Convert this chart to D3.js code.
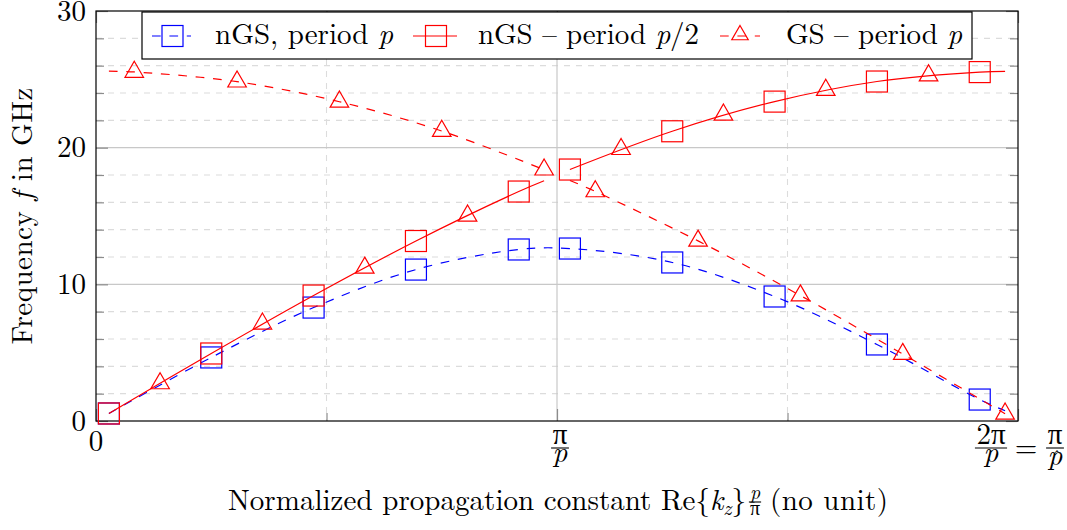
<!DOCTYPE html>
<html><head><meta charset="utf-8">
<script src="https://cdn.jsdelivr.net/npm/d3@7"></script>
<style>
body{margin:0;background:#fff;}
svg{display:block;}
</style>
</head><body>
<svg id="c" width="1067" height="530"></svg>
<script>
// ---------------- data ----------------
const xDomain = [0, 2];
const yDomain = [0, 30];
const yMajorTicks = [0, 10, 20, 30];
const yMinorTicks = [2, 4, 6, 8, 12, 14, 16, 18, 22, 24, 26, 28];
const xMajorTicks = [0, 1, 2];
const xMinorTicks = [0.5, 1.5];
const yTickLabels = ["0", "10", "20", "30"];

// nGS, period p (blue, dashed)
const nGSpX = [0.028, 0.25, 0.472, 0.694, 0.917, 1.028, 1.25, 1.472, 1.694, 1.917, 1.972];
const nGSpY = [0.55, 4.65, 8.30, 11.08, 12.55, 12.62, 11.60, 9.11, 5.60, 1.57, 0.75];
const nGSpMarked = [1, 1, 1, 1, 1, 1, 1, 1, 1, 1, 0];

// nGS - period p/2 (red, solid), two branches
const nGSh1X = [0.028, 0.25, 0.472, 0.694, 0.917, 0.972];
const nGSh1Y = [0.55, 4.94, 9.18, 13.17, 16.79, 17.58];
const nGSh1Marked = [1, 1, 1, 1, 1, 0];
const nGSh2X = [1.028, 1.25, 1.472, 1.694, 1.917, 1.972];
const nGSh2Y = [18.40, 21.20, 23.37, 24.84, 25.53, 25.58];
const nGSh2Marked = [1, 1, 1, 1, 1, 0];

// GS - period p (red, dashed, triangles), descending branches
const GSd1X = [0.028, 0.083, 0.306, 0.528, 0.75, 0.972];
const GSd1Y = [25.60, 25.54, 24.83, 23.36, 21.22, 18.39];
const GSd1Marked = [0, 1, 1, 1, 1, 1];
const GSd2X = [1.028, 1.083, 1.306, 1.528, 1.75, 1.972];
const GSd2Y = [17.60, 16.80, 13.18, 9.18, 4.90, 0.53];
const GSd2Marked = [0, 1, 1, 1, 1, 1];
// GS - period p, rising branch markers (lying on the red solid curve)
const GSrX = [0.139, 0.361, 0.583, 0.806, 1.139, 1.361, 1.583, 1.806];
const GSrY = [2.75, 7.12, 11.21, 15.02, 19.89, 22.41, 24.22, 25.28];

const legendLabels = ["nGS, period ", "nGS \u2013 period ", "GS \u2013 period "];

// ---------------- layout ----------------
const FONT = '"Latin Modern Roman", "Liberation Serif", serif';
const M = {left: 96, right: 1018, top: 11, bottom: 421};
const BLUE = "#0000ff", RED = "#ff0000";
const FS = 29;
const LW = 1.2;
const DASH = "8.7,8.7";

const svg = d3.select("#c");
const x = d3.scaleLinear(xDomain, [M.left, M.right]);
const y = d3.scaleLinear(yDomain, [M.bottom, M.top]);

const zip = (xs, ys) => xs.map((v, i) => [v, ys[i]]);
const T = (g) => g.append("text").attr("font-family", FONT).attr("fill", "#000");

// ---------------- grid ----------------
const grid = svg.append("g");
grid.selectAll(".hmin").data(yMinorTicks).join("line")
  .attr("x1", M.left).attr("x2", M.right)
  .attr("y1", d => y(d)).attr("y2", d => y(d))
  .attr("stroke", "#dcdcdc").attr("stroke-width", 1.1).attr("stroke-dasharray", "6,6");
grid.selectAll(".vmin").data(xMinorTicks).join("line")
  .attr("y1", M.top).attr("y2", M.bottom)
  .attr("x1", d => x(d)).attr("x2", d => x(d))
  .attr("stroke", "#dcdcdc").attr("stroke-width", 1.1).attr("stroke-dasharray", "6,6");
grid.selectAll(".hmaj").data(yMajorTicks.slice(1, -1)).join("line")
  .attr("x1", M.left).attr("x2", M.right)
  .attr("y1", d => y(d)).attr("y2", d => y(d))
  .attr("stroke", "#c8c8c8").attr("stroke-width", 1.2);
grid.selectAll(".vmaj").data(xMajorTicks.slice(1, -1)).join("line")
  .attr("y1", M.top).attr("y2", M.bottom)
  .attr("x1", d => x(d)).attr("x2", d => x(d))
  .attr("stroke", "#c8c8c8").attr("stroke-width", 1.2);

// ---------------- axes (ticks inside) ----------------
function styleAxis(g) {
  g.attr("font-family", FONT);
  g.select(".domain").remove();
  g.selectAll(".tick line").attr("stroke", "#8c8c8c").attr("stroke-width", 1.2);
  g.selectAll(".tick text").attr("font-size", FS).attr("font-family", FONT).attr("fill", "#000");
}
svg.append("g").attr("transform", `translate(${M.left},0)`)
  .call(d3.axisLeft(y).tickValues(yMajorTicks).tickSize(-12).tickPadding(10)
    .tickFormat((d, i) => yTickLabels[i]))
  .call(styleAxis);
svg.append("g").attr("transform", `translate(${M.left},0)`)
  .call(d3.axisLeft(y).tickValues(yMinorTicks).tickSize(-8).tickFormat(""))
  .call(styleAxis);
svg.append("g").attr("transform", `translate(${M.right},0)`)
  .call(d3.axisRight(y).tickValues(yMajorTicks).tickSize(-12).tickFormat(""))
  .call(styleAxis);
svg.append("g").attr("transform", `translate(${M.right},0)`)
  .call(d3.axisRight(y).tickValues(yMinorTicks).tickSize(-8).tickFormat(""))
  .call(styleAxis);
svg.append("g").attr("transform", `translate(0,${M.bottom})`)
  .call(d3.axisBottom(x).tickValues(xMajorTicks).tickSize(-12).tickFormat(""))
  .call(styleAxis);
svg.append("g").attr("transform", `translate(0,${M.bottom})`)
  .call(d3.axisBottom(x).tickValues(xMinorTicks).tickSize(-8).tickFormat(""))
  .call(styleAxis);
svg.append("g").attr("transform", `translate(0,${M.top})`)
  .call(d3.axisTop(x).tickValues(xMajorTicks).tickSize(-12).tickFormat(""))
  .call(styleAxis);
svg.append("g").attr("transform", `translate(0,${M.top})`)
  .call(d3.axisTop(x).tickValues(xMinorTicks).tickSize(-8).tickFormat(""))
  .call(styleAxis);

// frame
svg.append("rect").attr("x", M.left).attr("y", M.top)
  .attr("width", M.right - M.left).attr("height", M.bottom - M.top)
  .attr("fill", "none").attr("stroke", "#000").attr("stroke-width", 1.2);

// ---------------- x tick labels ----------------
function frac(g, cx, barY, num, den, fs, opts = {}) {
  const n = T(g).attr("x", cx).attr("y", barY - (opts.numGap || 5))
    .attr("text-anchor", "middle").attr("font-size", fs);
  num.forEach(p => n.append("tspan").attr("font-style", p.i ? "italic" : null).text(p.t));
  const d = T(g).attr("x", cx).attr("y", barY + (opts.denGap || 14))
    .attr("text-anchor", "middle").attr("font-size", fs);
  den.forEach(p => d.append("tspan").attr("font-style", p.i ? "italic" : null).text(p.t));
  const w = Math.max(n.node().getComputedTextLength(), d.node().getComputedTextLength()) + (opts.pad || 3);
  g.append("line").attr("x1", cx - w / 2).attr("x2", cx + w / 2)
    .attr("y1", barY).attr("y2", barY).attr("stroke", "#000").attr("stroke-width", 1.1);
  return {n, d, w};
}
const xl = svg.append("g");
T(xl).attr("x", x(0)).attr("y", 451).attr("text-anchor", "middle")
  .attr("font-size", FS).text("0");
frac(xl, x(1) + 3, 448, [{t: "\u03c0"}], [{t: "p", i: 1}], FS, {numGap: 4, denGap: 14});
// right label: 2π/p = π/p̂
frac(xl, x(2) - 27, 448, [{t: "2\u03c0"}], [{t: "p", i: 1}], FS, {numGap: 4, denGap: 14});
T(xl).attr("x", x(2) + 8).attr("y", 457).attr("text-anchor", "middle")
  .attr("font-size", FS).text("=");
frac(xl, x(2) + 37, 448, [{t: "\u03c0"}], [{t: "p", i: 1}], FS, {numGap: 4, denGap: 17});
T(xl).attr("x", x(2) + 39).attr("y", 464).attr("text-anchor", "middle")
  .attr("font-size", 20).text("\u02c6");

// ---------------- axis titles ----------------
const yt = T(svg).attr("transform", "translate(32,216) rotate(-90)")
  .attr("text-anchor", "middle").attr("font-size", FS)
  .attr("textLength", 257).attr("lengthAdjust", "spacing");
yt.append("tspan").text("Frequency ");
yt.append("tspan").attr("font-style", "italic").text("f");
yt.append("tspan").text(" in GHz");

const xtA = T(svg).attr("x", 228).attr("y", 510).attr("font-size", FS)
  .attr("textLength", 518).attr("lengthAdjust", "spacing");
xtA.append("tspan").text("Normalized propagation constant Re{");
xtA.append("tspan").attr("font-style", "italic").text("k");
xtA.append("tspan").attr("font-style", "italic").attr("font-size", 20).attr("dy", 5).text("z");
xtA.append("tspan").attr("dy", -5).text("}");
const fx = svg.append("g");
frac(fx, 755, 502, [{t: "p", i: 1}], [{t: "\u03c0"}], 20, {numGap: 3, denGap: 13, pad: 2});
T(svg).attr("x", 770).attr("y", 510).attr("font-size", FS)
  .attr("textLength", 118).attr("lengthAdjust", "spacing").text("(no unit)");

// ---------------- data marks ----------------
const line = d3.line().x(d => x(d[0])).y(d => y(d[1])).curve(d3.curveCatmullRom.alpha(0.5));
const plot = svg.append("g");
const SQ = 21, TR = 10.7;
const triPath = r => `M0,${-r}L${0.866 * r},${0.5 * r}L${-0.866 * r},${0.5 * r}Z`;

function drawSeries(xs, ys, marked, color, dash, shape) {
  const pts = zip(xs, ys);
  plot.append("path").attr("d", line(pts)).attr("fill", "none")
    .attr("stroke", color).attr("stroke-width", LW)
    .attr("stroke-dasharray", dash);
  drawMarks(pts.filter((p, i) => marked[i]), color, shape);
}
function drawMarks(pts, color, shape) {
  if (shape === "square") {
    plot.append("g").selectAll("rect").data(pts).join("rect")
      .attr("x", d => x(d[0]) - SQ / 2).attr("y", d => y(d[1]) - SQ / 2)
      .attr("width", SQ).attr("height", SQ)
      .attr("fill", "none").attr("stroke", color).attr("stroke-width", LW);
  } else {
    plot.append("g").selectAll("path").data(pts).join("path")
      .attr("transform", d => `translate(${x(d[0])},${y(d[1])})`)
      .attr("d", triPath(TR))
      .attr("fill", "none").attr("stroke", color).attr("stroke-width", LW);
  }
}
drawSeries(nGSpX, nGSpY, nGSpMarked, BLUE, DASH, "square");
drawSeries(nGSh1X, nGSh1Y, nGSh1Marked, RED, null, "square");
drawSeries(nGSh2X, nGSh2Y, nGSh2Marked, RED, null, "square");
drawSeries(GSd1X, GSd1Y, GSd1Marked, RED, DASH, "triangle");
drawSeries(GSd2X, GSd2Y, GSd2Marked, RED, DASH, "triangle");
drawMarks(zip(GSrX, GSrY), RED, "triangle");

// ---------------- legend ----------------
const lg = svg.append("g");
lg.append("rect").attr("x", 142).attr("y", 12).attr("width", 830).attr("height", 47)
  .attr("fill", "#fff").attr("stroke", "#000").attr("stroke-width", 1.2);
const LY = 36;
const entries = [
  {x0: 152, x1: 191, color: BLUE, dash: DASH, shape: "square", tx: 215, tw: 178, label: legendLabels[0], tail: "p"},
  {x0: 413, x1: 457, color: RED, dash: null, shape: "square", tx: 478, tw: 221, label: legendLabels[1], tail: "p/2"},
  {x0: 720, x1: 760, color: RED, dash: DASH, shape: "triangle", tx: 786, tw: 176, label: legendLabels[2], tail: "p"}
];
entries.forEach(e => {
  lg.append("line").attr("x1", e.x0).attr("x2", e.x1).attr("y1", LY).attr("y2", LY)
    .attr("stroke", e.color).attr("stroke-width", LW).attr("stroke-dasharray", e.dash);
  const cx = (e.x0 + e.x1) / 2;
  if (e.shape === "square") {
    lg.append("rect").attr("x", cx - SQ / 2 + 1).attr("y", LY - SQ / 2)
      .attr("width", SQ).attr("height", SQ).attr("fill", "none")
      .attr("stroke", e.color).attr("stroke-width", LW);
  } else {
    lg.append("path").attr("transform", `translate(${cx},${LY - 1})`).attr("d", triPath(9.5))
      .attr("fill", "none").attr("stroke", e.color).attr("stroke-width", LW);
  }
  const t = T(lg).attr("x", e.tx).attr("y", 44).attr("font-size", FS)
    .attr("textLength", e.tw).attr("lengthAdjust", "spacing");
  t.append("tspan").text(e.label);
  if (e.tail === "p/2") {
    t.append("tspan").attr("font-style", "italic").text("p");
    t.append("tspan").text("/2");
  } else {
    t.append("tspan").attr("font-style", "italic").text(e.tail);
  }
});
</script>
</body></html>
